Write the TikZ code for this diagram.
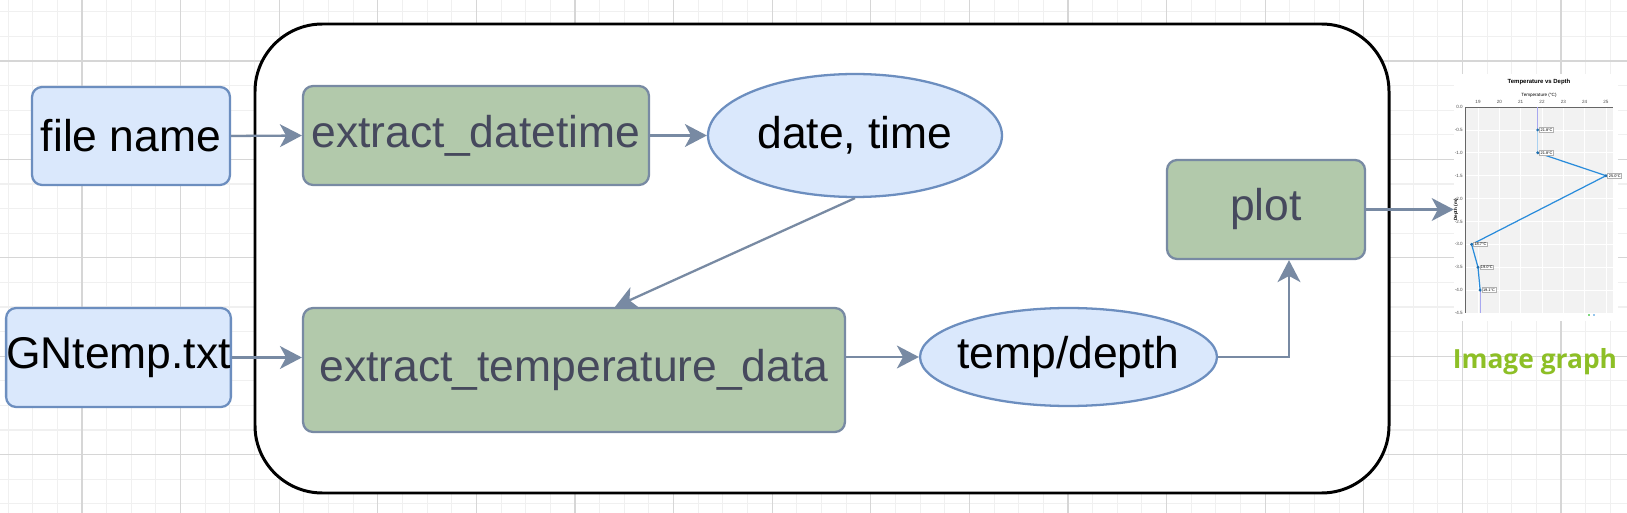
\documentclass[tikz,border=0pt]{standalone}
\usepackage{fontspec}
\setmainfont{Liberation Sans}
\newfontfamily\captionfont{Open Sans}
\usetikzlibrary{shapes.geometric, arrows.meta, positioning, calc}

\definecolor{boxblue}{HTML}{DAE8FC}
\definecolor{lineblue}{HTML}{6C8EBF}
\definecolor{boxgreen}{HTML}{B2C9AB}
\definecolor{linegreen}{HTML}{788AA3}
\definecolor{textgreen}{HTML}{46495D}
\definecolor{captiongreen}{HTML}{8DBF26}
\definecolor{curveblue}{HTML}{2A8CDB}
\definecolor{curvepurple}{HTML}{A8A8F0}

\begin{document}
\begin{tikzpicture}[x=0.02cm, y=-0.02cm,
    inbox/.style={draw=lineblue, fill=boxblue, rounded corners=0.2cm, line width=1.3pt,
        font=\fontsize{25.3}{30}\selectfont, inner sep=0pt},
    funcbox/.style={draw=linegreen, fill=boxgreen, text=textgreen, rounded corners=0.2cm,
        line width=1.3pt, font=\fontsize{25.3}{30}\selectfont, inner sep=0pt},
    dataell/.style={ellipse, draw=lineblue, fill=boxblue, line width=1.3pt,
        font=\fontsize{25.3}{30}\selectfont, inner xsep=-0.5cm, inner ysep=0pt},
    flow/.style={-{Stealth[length=12.5pt, width=13pt, inset=3.5pt]}, draw=linegreen, line width=1.3pt},
    minorgrid/.style={draw=black!6, line width=0.6pt},
    majorgrid/.style={draw=black!16, line width=0.6pt},
    tick/.style={font=\fontsize{2.6}{3}\selectfont, text=black!70, inner sep=0pt}]
    \useasboundingbox (0,0) rectangle (1627,513);

    % Background grid
    \fill[white] (0,0) rectangle (1627,513);
    \foreach \i in {0,...,66} \draw[minorgrid] ({8.05+24.65*\i},0) -- ++(0,513);
    \foreach \j in {0,...,20} \draw[minorgrid] (0,{11.8+24.6*\j}) -- ++(1627,0);
    \foreach \i in {0,...,15} \draw[majorgrid] ({82+98.6*\i},0) -- ++(0,513);
    \foreach \j in {0,...,4} \draw[majorgrid] (0,{61+98.4*\j}) -- ++(1627,0);

    % Container
    \draw[line width=1.7pt, fill=white, rounded corners=1.35cm] (255,24) rectangle (1389,493);

    % Inputs
    \node[inbox, minimum width=3.96cm, minimum height=1.96cm] (fname) at (131,136) {file name};
    \node[inbox, minimum width=4.46cm, minimum height=1.98cm] (gntemp) at (118.5,357.5) {GNtemp.txt};

    % Functions and data
    \node[funcbox, minimum width=6.92cm, minimum height=1.98cm] (extdt) at (476,135.5) {extract\_datetime};
    \node[dataell, minimum width=5.88cm, minimum height=2.46cm] (datetime) at (855,135.5) {date, time};
    \node[funcbox, minimum width=10.84cm, minimum height=2.48cm] (exttemp) at (574,370) {extract\_temperature\_data};
    \node[dataell, minimum width=5.94cm, minimum height=1.96cm] (tempdepth) at (1068.5,357) {temp/depth};
    \node[funcbox, minimum width=3.96cm, minimum height=1.98cm] (plot) at (1266,209.5) {plot};

    % Chart image
    \node[fill=white, minimum width=3.28cm, minimum height=4.94cm, inner sep=0pt] (chart) at (1536,197.5) {};
    \fill[black!5] (1465,107) rectangle (1613,313);
    \foreach \t in {19,...,25} {
        \draw[white, line width=0.4pt] ({1478+(\t-19)*21.33},107) -- ++(0,206);
        \node[tick] at ({1478+(\t-19)*21.33},102) {\t};
    }
    \foreach \d in {0.0,-0.5,-1.0,-1.5,-2.0,-2.5,-3.0,-3.5,-4.0,-4.5} {
        \draw[white, line width=0.4pt] (1465,{107-\d*45.8}) -- ++(148,0);
        \node[tick, anchor=east] at (1463,{107-\d*45.8}) {\d};
    }
    \draw[black!60, line width=0.4pt] (1465,313) -- (1465,107) -- (1613,107);
    \node[font=\fontsize{3.4}{4}\selectfont\bfseries] at (1539,82) {Temperature vs Depth};
    \node[font=\fontsize{2.6}{3}\selectfont] at (1539,95) {Temperature (°C)};
    \node[font=\fontsize{2.6}{3}\selectfont\bfseries, rotate=90] at (1456,210) {Depth (m)};
    \draw[curvepurple, line width=0.7pt] ({1478+2.8*21.33},107) -- ({1478+2.8*21.33},{107+0.5*45.8});
    \draw[curveblue!40, line width=0.7pt] ({1478+2.8*21.33},{107+0.5*45.8}) -- ({1478+2.8*21.33},{107+1.0*45.8});
    \draw[curveblue, line width=0.7pt] ({1478+2.8*21.33},{107+1.0*45.8}) -- ({1478+6*21.33},{107+1.5*45.8})
        -- ({1478-0.3*21.33},{107+3.0*45.8}) -- ({1478+0.0*21.33},{107+3.5*45.8}) -- ({1478+0.1*21.33},{107+4.0*45.8});
    \draw[curvepurple, line width=0.7pt] ({1478+0.1*21.33},{107+4.0*45.8}) -- ({1478+0.1*21.33},313);
    \foreach \t/\d in {21.8/0.5, 21.8/1.0, 25.0/1.5, 18.7/3.0, 19.0/3.5, 19.1/4.0} {
        \fill[curveblue!80!black] ({1478+(\t-19)*21.33},{107+\d*45.8}) circle (1.6);
        \node[draw=black!30, fill=white, font=\fontsize{2.2}{3}\selectfont, inner sep=0.6pt, anchor=west]
            at ({1478+(\t-19)*21.33+1.5},{107+\d*45.8}) {\t°C};
    }
    \fill[green!70!black] (1589,315) circle (0.9);
    \fill[curveblue] (1594,315) circle (0.9);

    % Caption
    \node[font=\captionfont\fontsize{15}{18}\selectfont\bfseries, text=captiongreen] (caption) at (1535,362) {Image graph};

    % Arrows
    \draw[flow] (fname.east) -- (extdt.west);
    \draw[flow] (gntemp.east) -- (gntemp.east -| exttemp.west);
    \draw[flow] (extdt.east) -- (datetime.west);
    \draw[flow] (datetime.south) -- ([xshift=0.82cm]exttemp.north);
    \draw[flow] (exttemp.east |- tempdepth.west) -- (tempdepth.west);
    \draw[flow] (tempdepth.east) -| ([xshift=0.46cm]plot.south);
    \draw[flow] (plot.east) -- (plot.east -| chart.west);
\end{tikzpicture}
\end{document}
